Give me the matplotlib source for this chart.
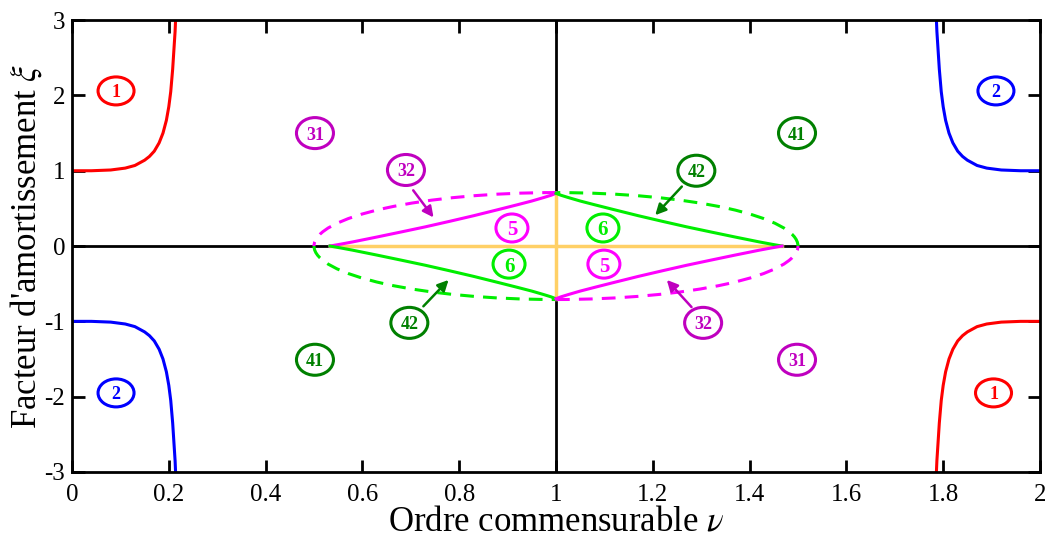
import numpy as np
import matplotlib
matplotlib.use('Agg')
import matplotlib.pyplot as plt
from matplotlib.patches import Arc, Ellipse
from matplotlib.transforms import ScaledTranslation

plt.rcParams['font.family'] = ['Liberation Serif', 'DejaVu Serif']
plt.rcParams['mathtext.fontset'] = 'stix'
plt.rcParams['axes.unicode_minus'] = False

# stability boundary, upper-left branch (nu, xi); other branches are mirrored
nu_edge = [0.0, 0.04, 0.08, 0.11, 0.13, 0.15, 0.16, 0.17, 0.18, 0.188, 0.195, 0.200,
           0.204, 0.208, 0.211, 0.213, 0.214]
xi_edge = [1.0, 1.0, 1.01, 1.035, 1.07, 1.14, 1.19, 1.26, 1.37, 1.50, 1.67, 1.85,
           2.05, 2.35, 2.65, 2.85, 3.0]

# inner boundary, left/upper arc (nu, xi)
nu_inner = [0.533, 0.555, 0.58, 0.63, 0.68, 0.73, 0.78, 0.83, 0.88, 0.92, 0.95, 0.975, 0.99, 1.0]
xi_inner = [0.0, 0.025, 0.055, 0.12, 0.187, 0.255, 0.328, 0.403, 0.483, 0.548, 0.598, 0.645, 0.675, 0.70]

# dashed envelope ellipse
ell_center = (1.0, 0.0)
ell_half_nu = 0.5
ell_half_xi = 0.71

# region labels: text, nu, xi, colour, font size, ellipse size (px)
labels = [
    ('1', 0.091, 2.06, '#FF0000', 13, 36, 28),
    ('2', 1.909, 2.06, '#0000FF', 13, 36, 28),
    ('2', 0.091, -1.95, '#0000FF', 13, 36, 28),
    ('1', 1.904, -1.95, '#FF0000', 13, 36, 28),
    ('31', 0.502, 1.50, '#BF00BF', 13, 37, 31),
    ('31', 1.498, -1.51, '#BF00BF', 13, 37, 31),
    ('41', 1.498, 1.50, '#008000', 13, 37, 31),
    ('41', 0.502, -1.51, '#008000', 13, 37, 31),
    ('32', 0.690, 1.01, '#BF00BF', 13, 37, 31),
    ('32', 1.304, -1.02, '#BF00BF', 13, 37, 31),
    ('42', 1.290, 1.00, '#008000', 13, 37, 31),
    ('42', 0.697, -1.02, '#008000', 13, 37, 31),
    ('5', 0.909, 0.24, '#FF00FF', 15, 32, 28),
    ('5', 1.099, -0.24, '#FF00FF', 15, 32, 28),
    ('6', 1.097, 0.24, '#00EE00', 15, 32, 28),
    ('6', 0.903, -0.24, '#00EE00', 15, 32, 28),
]

# arrows: tail (nu, xi), head (nu, xi), colour
arrows = [
    ((0.705, 0.74), (0.747, 0.38), '#BF00BF'),
    ((1.260, 0.79), (1.205, 0.41), '#008000'),
    ((0.726, -0.80), (0.778, -0.45), '#008000'),
    ((1.280, -0.81), (1.229, -0.45), '#BF00BF'),
]

nu_edge = np.array(nu_edge)
xi_edge = np.array(xi_edge)
nu_inner = np.array(nu_inner)
xi_inner = np.array(xi_inner)

fig = plt.figure(figsize=(10.45, 5.44), dpi=100)
ax = fig.add_axes([0.0689, 0.1324, 0.9263, 0.8306])

red, blue = '#FF0000', '#0000FF'
mag, grn = '#FF00FF', '#00EE00'
yel = '#FFD066'

# axes through (1, 0)
ax.axhline(0, color='black', lw=2, zorder=1)
ax.axvline(1, color='black', lw=2, zorder=1)

# outer boundaries
ax.plot(nu_edge, xi_edge, color=red, lw=2.2)
ax.plot(2 - nu_edge, -xi_edge, color=red, lw=2.2)
ax.plot(nu_edge, -xi_edge, color=blue, lw=2.2)
ax.plot(2 - nu_edge, xi_edge, color=blue, lw=2.2)

# dashed ellipse, split in four quarter arcs
dash = (0, (4.5, 3))
for t1, t2, c in [(90, 180, mag), (0, 90, grn), (180, 270, grn), (270, 360, mag)]:
    ax.add_patch(Arc(ell_center, 2 * ell_half_nu, 2 * ell_half_xi, theta1=t1, theta2=t2,
                     color=c, lw=2.2, linestyle=dash, zorder=3))

# inner segments
ax.plot([nu_inner.min(), 2 - nu_inner.min()], [0, 0], color=yel, lw=2.5, zorder=2)
ax.plot([1, 1], [-xi_inner.max(), xi_inner.max()], color=yel, lw=2.5, zorder=2)
ax.plot(nu_inner, xi_inner, color=mag, lw=2.2, zorder=4)
ax.plot(2 - nu_inner, xi_inner, color=grn, lw=2.2, zorder=4)
ax.plot(nu_inner, -xi_inner, color=grn, lw=2.2, zorder=4)
ax.plot(2 - nu_inner, -xi_inner, color=mag, lw=2.2, zorder=4)

for (x0, y0), (x1, y1), c in arrows:
    ax.annotate('', xy=(x1, y1), xytext=(x0, y0),
                arrowprops=dict(arrowstyle='-|>', color=c, lw=1.8, mutation_scale=16,
                                shrinkA=0, shrinkB=0))

for s, x, y, c, fs, w, h in labels:
    ax.text(x, y, s, color=c, fontsize=fs, fontweight='bold', ha='center', va='center_baseline',
            zorder=6)
    tr = fig.dpi_scale_trans + ScaledTranslation(x, y, ax.transData)
    ax.add_patch(Ellipse((0, 0), w / 100, h / 100, transform=tr, fill=False, ec=c, lw=2.2,
                         zorder=6))

ax.set_xlim(0, 2)
ax.set_ylim(-3, 3)
ax.set_xticks(np.arange(0, 2.01, 0.2))
ax.set_xticklabels(['%g' % round(v, 1) for v in np.arange(0, 2.01, 0.2)])
ax.set_yticks(np.arange(-3, 4, 1))
ax.set_yticklabels(['%d' % v for v in range(-3, 4)])
ax.tick_params(direction='in', length=9, width=2, top=True, right=True, labelsize=18, pad=5)
ax.tick_params(axis='x', pad=9)
for sp in ax.spines.values():
    sp.set_linewidth(2)

ax.set_xlabel(r"Ordre commensurable $\nu$", fontsize=25, labelpad=-1)
ax.set_ylabel(r"Facteur d'amortissement $\xi$", fontsize=25, labelpad=0)

fig.savefig('out.png', dpi=100)
